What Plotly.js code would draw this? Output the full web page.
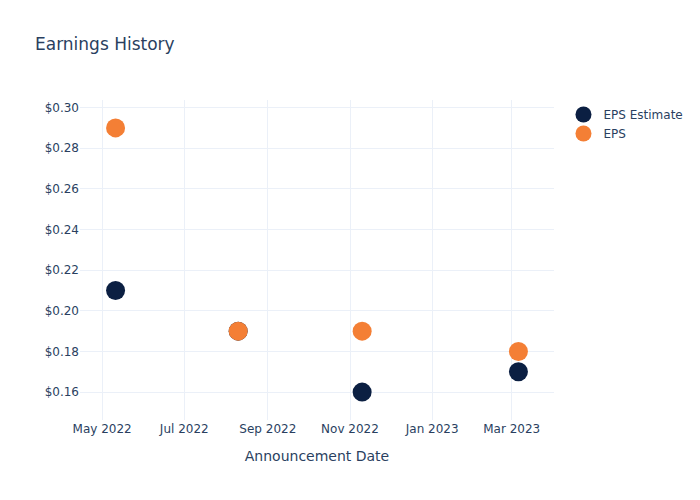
<!DOCTYPE html>
<html>
<head>
<meta charset="utf-8">
<script src="https://cdn.plot.ly/plotly-3.0.1.min.js"></script>
<style>html,body{margin:0;padding:0;background:#fff;}#chart{width:700px;height:500px;}</style>
</head>
<body>
<div id="chart"></div>
<script>
const dates = ["2022-05-11", "2022-08-10", "2022-11-10", "2023-03-06"];
const epsEstimate = [0.21, 0.19, 0.16, 0.17];
const epsActual = [0.29, 0.19, 0.19, 0.18];
const seriesNames = ["EPS Estimate", "EPS"];
const seriesColors = ["#0b1f42", "#f47f35"];

const traces = [
  {x: dates, y: epsEstimate, name: seriesNames[0], type: "scatter", mode: "markers",
   marker: {size: 19, color: seriesColors[0]}},
  {x: dates, y: epsActual, name: seriesNames[1], type: "scatter", mode: "markers",
   marker: {size: 19, color: seriesColors[1]}}
];

const layout = {
  width: 700, height: 500,
  font: {family: "DejaVu Sans, sans-serif", color: "#2a3f5f", size: 12},
  title: {text: "Earnings History", x: 0.05, xanchor: "left", font: {size: 17}},
  paper_bgcolor: "#fff", plot_bgcolor: "#fff",
  margin: {l: 80, r: 80, t: 100, b: 80},
  xaxis: {
    type: "date",
    title: {text: "Announcement Date", font: {size: 14}, standoff: 16},
    gridcolor: "#EBF0F8", zeroline: false, showline: false,
    tickformat: "%b %Y", dtick: "M2", tick0: "2022-01-01"
  },
  yaxis: {
    gridcolor: "#EBF0F8", zeroline: false, showline: false,
    tickprefix: "$", tickformat: ".2f", dtick: 0.02
  },
  legend: {font: {size: 12}},
  showlegend: true
};

Plotly.newPlot("chart", traces, layout, {displayModeBar: false});
</script>
</body>
</html>
